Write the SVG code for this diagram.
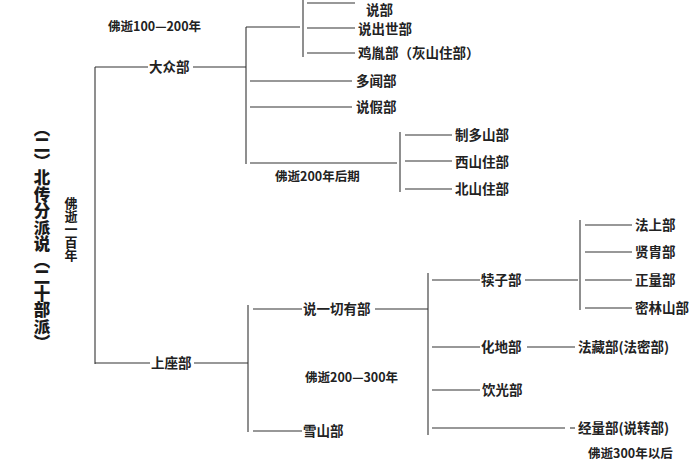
<svg xmlns="http://www.w3.org/2000/svg" width="700" height="470" viewBox="0 0 700 470">
<style>
.t{font-family:"Noto Sans CJK SC","Liberation Serif",sans-serif;font-size:13.5px;font-weight:600;fill:#222}
.s{font-size:12.5px}
.v{writing-mode:vertical-rl;font-family:"Noto Sans CJK SC",sans-serif;fill:#1a1a1a}
#connectors line{stroke:#333;stroke-width:1.1}
</style>
<rect width="700" height="470" fill="#fff"/>
<g id="connectors">
<line x1="95" y1="67" x2="95" y2="364"/>
<line x1="95" y1="67" x2="148" y2="67"/>
<line x1="193" y1="67" x2="246" y2="67"/>
<line x1="246" y1="27" x2="246" y2="164"/>
<line x1="246" y1="27" x2="300" y2="27"/>
<line x1="303" y1="0" x2="303" y2="57"/>
<line x1="307" y1="3" x2="355" y2="3"/>
<line x1="307" y1="28" x2="355" y2="28"/>
<line x1="307" y1="53" x2="355" y2="53"/>
<line x1="250" y1="81" x2="352" y2="81"/>
<line x1="250" y1="107" x2="352" y2="107"/>
<line x1="250" y1="163" x2="397" y2="163"/>
<line x1="400" y1="132" x2="400" y2="192"/>
<line x1="405" y1="135" x2="452" y2="135"/>
<line x1="405" y1="161" x2="452" y2="161"/>
<line x1="405" y1="189" x2="452" y2="189"/>
<line x1="95" y1="363" x2="150" y2="363"/>
<line x1="194" y1="363" x2="248" y2="363"/>
<line x1="248" y1="305" x2="248" y2="432"/>
<line x1="253" y1="309" x2="302" y2="309"/>
<line x1="375" y1="309" x2="428" y2="309"/>
<line x1="253" y1="431" x2="302" y2="431"/>
<line x1="428" y1="273" x2="428" y2="435"/>
<line x1="432" y1="280" x2="480" y2="280"/>
<line x1="525" y1="280" x2="578" y2="280"/>
<line x1="580" y1="220" x2="580" y2="310"/>
<line x1="585" y1="225" x2="632" y2="225"/>
<line x1="585" y1="252" x2="632" y2="252"/>
<line x1="585" y1="280" x2="632" y2="280"/>
<line x1="585" y1="308" x2="632" y2="308"/>
<line x1="432" y1="347" x2="480" y2="347"/>
<line x1="527" y1="347" x2="575" y2="347"/>
<line x1="432" y1="390" x2="480" y2="390"/>
<line x1="432" y1="428" x2="565" y2="428"/>
<line x1="570" y1="428" x2="575" y2="428"/>
</g>
<g id="title"><text class="v" x="42" y="120" font-size="16.5" font-weight="900">（二）北传分派说（二十部派）</text></g>
<g id="era100"><text class="v" x="71" y="197" font-size="13" font-weight="700">佛逝一百年</text></g>
<g id="era100-200"><text class="t s" x="108" y="31">佛逝100—200年</text></g>
<g id="dazhong"><text class="t" x="149" y="72">大众部</text></g>
<g id="shuobu"><text class="t" x="366" y="14.5" font-size="10.5">说部</text></g>
<g id="shuochushi"><text class="t" x="358" y="34">说出世部</text></g>
<g id="jiyin"><text class="t" x="358" y="58">鸡胤部（灰山住部）</text></g>
<g id="duowen"><text class="t" x="356" y="86">多闻部</text></g>
<g id="shuojia"><text class="t" x="356" y="112">说假部</text></g>
<g id="era200late"><text class="t s" x="275" y="181">佛逝200年后期</text></g>
<g id="zhiduoshan"><text class="t" x="455" y="140">制多山部</text></g>
<g id="xishan"><text class="t" x="455" y="167">西山住部</text></g>
<g id="beishan"><text class="t" x="455" y="194">北山住部</text></g>
<g id="shangzuo"><text class="t" x="151" y="368">上座部</text></g>
<g id="shuoyiqieyou"><text class="t" x="303" y="314">说一切有部</text></g>
<g id="era200-300"><text class="t s" x="305" y="382">佛逝200—300年</text></g>
<g id="xueshan"><text class="t" x="303" y="436">雪山部</text></g>
<g id="duzi"><text class="t" x="481" y="285">犊子部</text></g>
<g id="fashang"><text class="t" x="635" y="230">法上部</text></g>
<g id="xianzhou"><text class="t" x="635" y="257">贤胄部</text></g>
<g id="zhengliang"><text class="t" x="635" y="285">正量部</text></g>
<g id="milinshan"><text class="t" x="635" y="313">密林山部</text></g>
<g id="huadi"><text class="t" x="481" y="352">化地部</text></g>
<g id="facang"><text class="t" x="578" y="352">法藏部(法密部)</text></g>
<g id="yinguang"><text class="t" x="482" y="395">饮光部</text></g>
<g id="jingliang"><text class="t" x="578" y="433">经量部(说转部)</text></g>
<g id="era300"><text class="t s" x="588" y="458">佛逝300年以后</text></g>
</svg>
